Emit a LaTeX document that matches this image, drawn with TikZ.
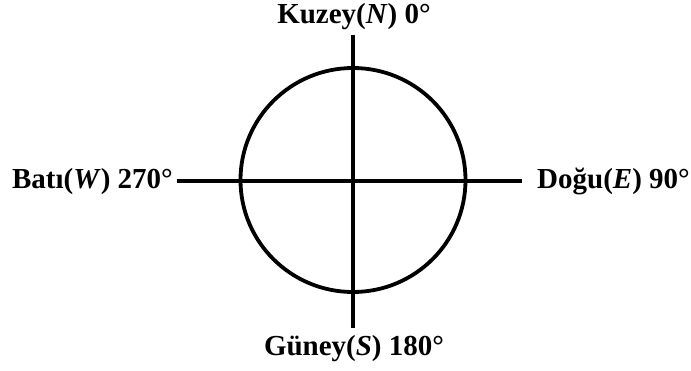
\documentclass[tikz,border=0pt]{standalone}
\usepackage{fontspec}
\setmainfont{Liberation Serif}
\begin{document}
\begin{tikzpicture}[x=1pt,y=-1pt,
  axis/.style={line width=3.8pt},
  lbl/.style={font=\bfseries\fontsize{29}{32}\selectfont, inner sep=0pt}]
\useasboundingbox (0,0) rectangle (691,370);
\coordinate (c) at (353,180);
\draw[axis] (c) ellipse [x radius=112.5pt, y radius=112pt];
\coordinate (ntop) at (353,35);
\coordinate (sbot) at (353,328);
\coordinate (wend) at (177,181);
\coordinate (eend) at (522,181);
\draw[axis] (ntop) -- (sbot);
\draw[axis] (wend) -- (eend);
\node[lbl, anchor=base] (n) at (354,23) {Kuzey(\textit{N}) 0°};
\node[lbl, anchor=base] (s) at (354,355) {Güney(\textit{S}) 180°};
\node[lbl, anchor=base east] (w) at (173,188) {Batı(\textit{W}) 270°};
\node[lbl, anchor=base west] (e) at (537,188) {Doğu(\textit{E}) 90°};
\end{tikzpicture}
\end{document}
